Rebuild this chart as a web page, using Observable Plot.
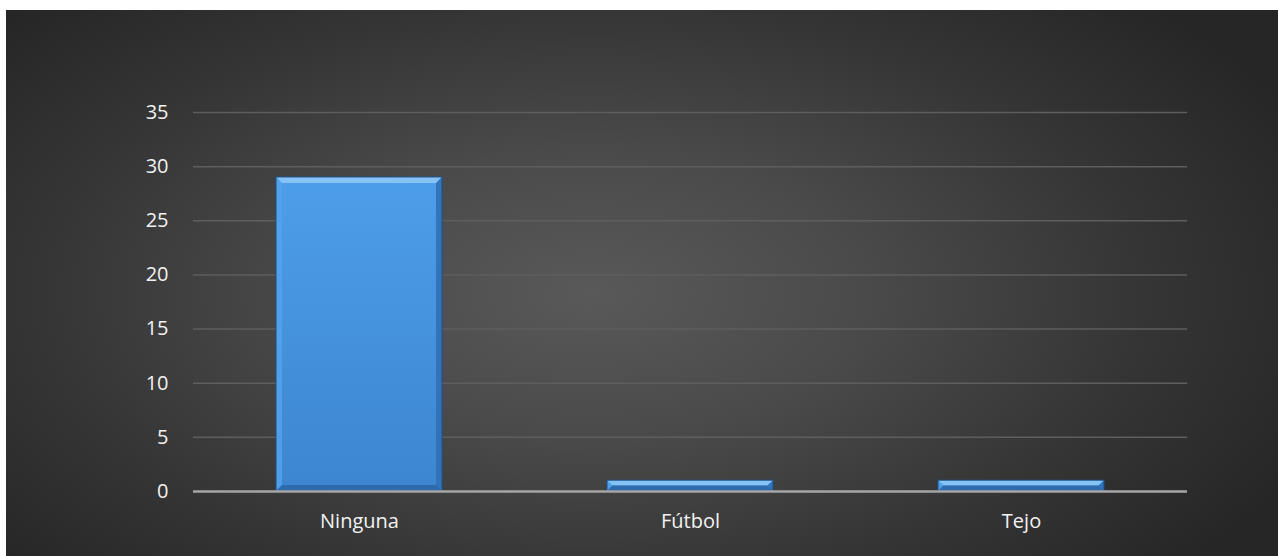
<!DOCTYPE html>
<html>
<head>
<meta charset="utf-8">
<script src="https://cdn.jsdelivr.net/npm/d3@7"></script>
<script src="https://cdn.jsdelivr.net/npm/@observablehq/plot@0.6"></script>
<style>
  html, body { margin: 0; padding: 0; background: #ffffff; }
  #wrap { position: relative; width: 1278px; height: 556px; overflow: hidden; }
  #bg { position: absolute; left: 6px; top: 10px; width: 1272px; height: 546px;
        background: radial-gradient(ellipse 62% 75% at 46% 52%, #595959 0%, #4a4a4a 35%, #353535 70%, #262626 100%); }
  #chart { position: absolute; left: 0; top: 0; }
  #chart svg { background: transparent; }
</style>
</head>
<body>
<div id="wrap"><div id="bg"></div><div id="chart"></div></div>
<script>
const categories = ["Ninguna", "Fútbol", "Tejo"];
const values = [29, 1, 1];
const yTicks = [0, 5, 10, 15, 20, 25, 30, 35];

const data = categories.map((c, i) => ({category: c, value: values[i]}));

function bevel(index, scales, vals, dims, context, next) {
  const g = next(index, scales, vals, dims, context);
  const ns = "http://www.w3.org/2000/svg";
  g.querySelectorAll("rect").forEach(r => {
    const x = +r.getAttribute("x"), y = +r.getAttribute("y");
    const w = +r.getAttribute("width"), h = +r.getAttribute("height");
    const b = Math.min(6, h / 2);
    const polys = [
      [[x, y], [x + w, y], [x + w - b, y + b], [x + b, y + b], "#8fcaf6"],
      [[x, y], [x + b, y + b], [x + b, y + h - b], [x, y + h], "#52a3eb"],
      [[x + w, y], [x + w, y + h], [x + w - b, y + h - b], [x + w - b, y + b], "#2f6fb4"],
      [[x, y + h], [x + b, y + h - b], [x + w - b, y + h - b], [x + w, y + h], "#2c66a6"]
    ];
    for (const p of polys) {
      const el = document.createElementNS(ns, "polygon");
      el.setAttribute("points", p.slice(0, 4).map(q => q.join(",")).join(" "));
      el.setAttribute("fill", p[4]);
      el.setAttribute("opacity", "0.85");
      g.appendChild(el);
    }
    const o = document.createElementNS(ns, "rect");
    o.setAttribute("x", x); o.setAttribute("y", y);
    o.setAttribute("width", w); o.setAttribute("height", h);
    o.setAttribute("fill", "none"); o.setAttribute("stroke", "#1f4f85"); o.setAttribute("stroke-width", "1");
    g.appendChild(o);
  });
  return g;
}

const plot = Plot.plot({
  width: 1278,
  height: 556,
  marginLeft: 193,
  marginRight: 91,
  marginTop: 112,
  marginBottom: 65,
  style: {background: "transparent", color: "#f2f2f2", fontFamily: "'Open Sans', sans-serif", fontSize: "20px"},
  x: {domain: categories, paddingInner: 0.5, paddingOuter: 0.25, label: null},
  y: {domain: [0, 35], label: null},
  marks: [
    Plot.ruleY(yTicks.filter(d => d > 0), {stroke: "#5e5e5e", strokeWidth: 1.5}),
    Plot.barY(data, {x: "category", y: "value", fill: "url(#barGrad)", render: bevel}),
    Plot.ruleY([0], {stroke: "#a6a6a6", strokeWidth: 2.5}),
    Plot.axisY({ticks: yTicks, tickSize: 0, tickPadding: 25, label: null, fill: "#f2f2f2", fontSize: 20}),
    Plot.axisX({tickSize: 0, tickPadding: 22, label: null, fill: "#f2f2f2", fontSize: 20})
  ]
});

const ns = "http://www.w3.org/2000/svg";
const defs = document.createElementNS(ns, "defs");
defs.innerHTML = `<linearGradient id="barGrad" x1="0" y1="0" x2="0" y2="1">
  <stop offset="0" stop-color="#4d9eea"/>
  <stop offset="1" stop-color="#3d85cf"/>
</linearGradient>`;
plot.insertBefore(defs, plot.firstChild);
document.getElementById("chart").appendChild(plot);
</script>
</body>
</html>
